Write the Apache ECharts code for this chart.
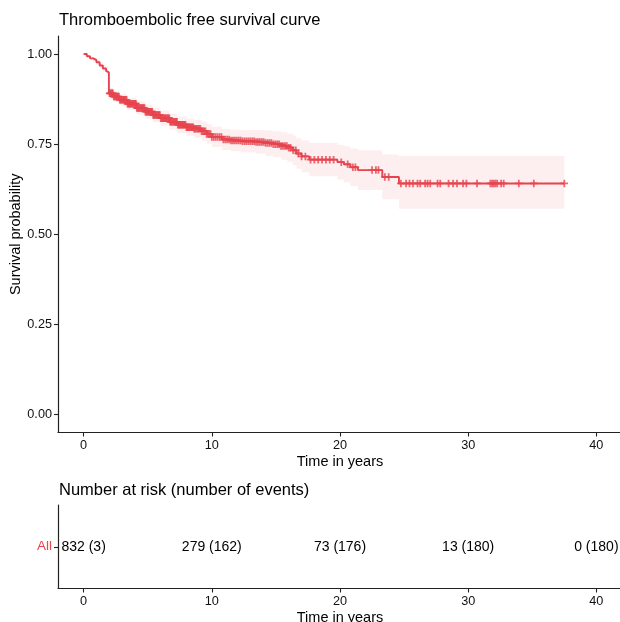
<!DOCTYPE html>
<html lang="en">
<head>
<meta charset="UTF-8">
<title>Thromboembolic free survival curve</title>
<script src="https://cdn.jsdelivr.net/npm/echarts@6/dist/echarts.min.js"></script>
<style>
    html, body { margin: 0; padding: 0; background: #fff; }
    #chart { width: 620px; height: 622px; }
</style>
</head>
<body>
<div id="chart"></div>
<script>
// Kaplan-Meier step knots (time in years, survival, 95% CI)
const kmTimes = [0, 0.25, 0.5, 0.75, 1.0, 1.25, 1.5, 1.75, 1.9, 1.97, 2.3, 2.8, 3.4, 4.1, 4.8, 5.4, 6.0, 6.7, 7.3, 8.0,
    8.6, 9.2, 9.6, 10.0, 10.8, 11.5, 12.3, 13.4, 14.2, 14.8, 15.4, 15.9, 16.3, 16.6, 17.0, 17.6, 19.8, 20.3, 20.8, 21.4,
    23.3, 24.6, 37.5];
const kmSurv = [1.000, 0.994, 0.988, 0.983, 0.977, 0.968, 0.960, 0.953, 0.949, 0.891, 0.882, 0.873, 0.862, 0.850, 0.840,
    0.831, 0.822, 0.812, 0.804, 0.797, 0.793, 0.786, 0.778, 0.770, 0.763, 0.760, 0.758, 0.756, 0.753, 0.750, 0.745,
    0.740, 0.733, 0.724, 0.716, 0.707, 0.700, 0.694, 0.686, 0.678, 0.659, 0.641, 0.641];
const kmLower = [1.000, 0.990, 0.983, 0.977, 0.970, 0.960, 0.951, 0.943, 0.938, 0.876, 0.867, 0.857, 0.845, 0.832, 0.821,
    0.811, 0.801, 0.790, 0.781, 0.773, 0.768, 0.760, 0.751, 0.742, 0.734, 0.730, 0.727, 0.723, 0.718, 0.714, 0.707,
    0.701, 0.692, 0.682, 0.672, 0.661, 0.652, 0.644, 0.634, 0.623, 0.597, 0.571, 0.571];
const kmUpper = [1.000, 0.998, 0.993, 0.989, 0.984, 0.976, 0.969, 0.963, 0.960, 0.906, 0.897, 0.889, 0.879, 0.868, 0.859,
    0.851, 0.843, 0.834, 0.827, 0.821, 0.818, 0.812, 0.805, 0.798, 0.792, 0.790, 0.789, 0.789, 0.788, 0.786, 0.783,
    0.779, 0.774, 0.766, 0.760, 0.753, 0.748, 0.744, 0.738, 0.733, 0.721, 0.717, 0.717];

// censoring times (the "+" marks)
const censorTimes = [2.02, 2.08, 2.15, 2.22, 2.28, 2.35, 2.42, 2.48, 2.55, 2.62, 2.68, 2.75, 2.82, 2.88, 2.95, 3.02,
    3.08, 3.15, 3.22, 3.28, 3.35, 3.42, 3.48, 3.55, 3.62, 3.68, 3.75, 3.82, 3.88, 3.95, 4.02, 4.08, 4.15, 4.22, 4.28,
    4.35, 4.42, 4.48, 4.55, 4.62, 4.68, 4.75, 4.82, 4.88, 4.95, 5.02, 5.08, 5.15, 5.22, 5.28, 5.35, 5.42, 5.48, 5.55,
    5.62, 5.68, 5.75, 5.82, 5.88, 5.95, 6.02, 6.08, 6.15, 6.22, 6.28, 6.35, 6.42, 6.48, 6.55, 6.62, 6.68, 6.75, 6.82,
    6.88, 6.95, 7.02, 7.08, 7.15, 7.22, 7.28, 7.35, 7.42, 7.48, 7.55, 7.62, 7.68, 7.75, 7.82, 7.88, 7.95, 8.02, 8.08,
    8.15, 8.22, 8.28, 8.35, 8.42, 8.48, 8.55, 8.62, 8.7, 8.8, 8.9, 9.0, 9.1, 9.2, 9.3, 9.4, 9.5, 9.6, 9.7, 9.8, 9.9,
    10.0, 10.15, 10.3, 10.45, 10.6, 10.75, 10.9, 11.05, 11.2, 11.35, 11.5, 11.65, 11.8, 11.95, 12.1, 12.25, 12.4,
    12.55, 12.7, 12.85, 13.0, 13.15, 13.3, 13.45, 13.6, 13.75, 13.9, 14.05, 14.2, 14.35, 14.5, 14.65, 14.8, 14.95,
    15.1, 15.25, 15.4, 15.55, 15.7, 15.85, 16.0, 16.15, 16.35, 16.55, 16.75, 17.0, 17.3, 17.7, 18.0, 18.3, 18.6,
    18.9, 19.2, 19.5, 20.1, 20.6, 21.0, 21.2, 22.5, 22.8, 23.0, 23.5, 23.8, 24.75, 25.16, 25.42, 25.69, 26.05, 26.26,
    26.64, 26.83, 27.04, 27.61, 27.82, 28.47, 28.82, 29.13, 29.6, 29.86, 30.69, 31.73, 31.87, 31.99, 32.12, 32.26,
    32.57, 32.77, 33.95, 35.12, 37.5];

// risk table
const strataNames = ['All'];
const riskTimes = [0, 10, 20, 30, 40];
const riskAtRisk = [832, 279, 73, 13, 0];
const riskEvents = [3, 162, 176, 180, 180];

const xTicks = [0, 10, 20, 30, 40];
const yTicks = [0, 0.25, 0.5, 0.75, 1];

const lineColor = '#e6434e';
const font = 'Liberation Sans, Arial, sans-serif';

// survival value at time t (step function)
function survAt(t) {
    let s = kmSurv[0];
    for (let i = 0; i < kmTimes.length; i++) {
        if (kmTimes[i] <= t) s = kmSurv[i];
    }
    return s;
}

const plusPath = 'path://M3.8,0H6.2V3.8H10V6.2H6.2V10H3.8V6.2H0V3.8H3.8Z';

function xAxisCfg(gridIndex) {
    return {
        type: 'value',
        gridIndex: gridIndex,
        min: -2,
        max: 42,
        name: 'Time in years',
        nameLocation: 'middle',
        nameGap: 22,
        nameMoveOverlap: false,
        nameTextStyle: { fontFamily: font, fontSize: 14.5, color: '#000' },
        splitLine: { show: false },
        axisLine: { show: true, onZero: false, lineStyle: { color: '#222', width: 1.2 } },
        axisTick: { show: true, customValues: xTicks, length: 4, lineStyle: { color: '#222', width: 1.1 } },
        axisLabel: { show: true, customValues: xTicks, margin: 6, fontFamily: font, fontSize: 12.7, color: '#111' }
    };
}

const myChart = echarts.init(document.getElementById('chart'), null, { renderer: 'canvas' });

const option = {
    animation: false,
    backgroundColor: '#fff',
    title: [
        {
            text: 'Thromboembolic free survival curve',
            left: 59, top: 12, padding: 0,
            textStyle: { fontFamily: font, fontSize: 16.5, fontWeight: 'normal', color: '#000' }
        },
        {
            text: 'Number at risk (number of events)',
            left: 59, top: 482, padding: 0,
            textStyle: { fontFamily: font, fontSize: 16.5, fontWeight: 'normal', color: '#000' }
        }
    ],
    grid: [
        { left: 58, right: -2, top: 36, bottom: 189.5, containLabel: false, outerBoundsMode: 'none' },
        { left: 58, right: -2, top: 505, bottom: 33.5, containLabel: false, outerBoundsMode: 'none' }
    ],
    xAxis: [xAxisCfg(0), xAxisCfg(1)],
    yAxis: [
        {
            type: 'value',
            gridIndex: 0,
            min: -0.05,
            max: 1.05,
            name: 'Survival probability',
            nameLocation: 'middle',
            nameGap: 35,
            nameMoveOverlap: false,
            nameTextStyle: { fontFamily: font, fontSize: 14.5, color: '#000' },
            splitLine: { show: false },
            axisLine: { show: true, onZero: false, lineStyle: { color: '#222', width: 1.2 } },
            axisTick: { show: true, customValues: yTicks, length: 4, lineStyle: { color: '#222', width: 1.1 } },
            axisLabel: {
                show: true, customValues: yTicks, margin: 6, fontFamily: font, fontSize: 12.7, color: '#111',
                formatter: function (v) { return v.toFixed(2); }
            }
        },
        {
            type: 'category',
            gridIndex: 1,
            data: strataNames,
            splitLine: { show: false },
            axisLine: { show: true, onZero: false, lineStyle: { color: '#222', width: 1.2 } },
            axisTick: { show: true, alignWithLabel: true, length: 4, lineStyle: { color: '#222', width: 1.1 } },
            axisLabel: { margin: 6, fontFamily: font, fontSize: 13.5, color: lineColor }
        }
    ],
    series: [
        // confidence band as a stepped polygon
        {
            type: 'custom',
            xAxisIndex: 0, yAxisIndex: 0,
            silent: true,
            clip: true,
            data: [[0]],
            renderItem: function (params, api) {
                const top = [];
                const bottom = [];
                for (let i = 0; i < kmTimes.length; i++) {
                    const next = i < kmTimes.length - 1 ? kmTimes[i + 1] : kmTimes[i];
                    top.push(api.coord([kmTimes[i], kmUpper[i]]));
                    top.push(api.coord([next, kmUpper[i]]));
                    bottom.push(api.coord([kmTimes[i], kmLower[i]]));
                    bottom.push(api.coord([next, kmLower[i]]));
                }
                return {
                    type: 'polygon',
                    shape: { points: top.concat(bottom.reverse()) },
                    style: { fill: 'rgba(230,67,78,0.085)' }
                };
            }
        },
        // survival curve
        {
            type: 'line', step: 'end',
            xAxisIndex: 0, yAxisIndex: 0,
            symbol: 'none',
            lineStyle: { color: lineColor, width: 1.9 },
            data: kmTimes.map(function (t, i) { return [t, kmSurv[i]]; })
        },
        // censor marks
        {
            type: 'scatter',
            xAxisIndex: 0, yAxisIndex: 0,
            symbol: plusPath,
            symbolSize: 7.5,
            itemStyle: { color: lineColor },
            data: censorTimes.map(function (t) { return [t, survAt(t)]; })
        },
        // risk table numbers
        {
            type: 'scatter',
            xAxisIndex: 1, yAxisIndex: 1,
            symbolSize: 0,
            itemStyle: { opacity: 1 },
            label: {
                show: true, position: 'inside',
                fontFamily: font, fontSize: 14, color: '#000', opacity: 1,
                formatter: function (p) {
                    return riskAtRisk[p.dataIndex] + ' (' + riskEvents[p.dataIndex] + ')';
                }
            },
            data: riskTimes.map(function (t) { return [t, 0]; })
        }
    ]
};

myChart.setOption(option);
</script>
</body>
</html>
